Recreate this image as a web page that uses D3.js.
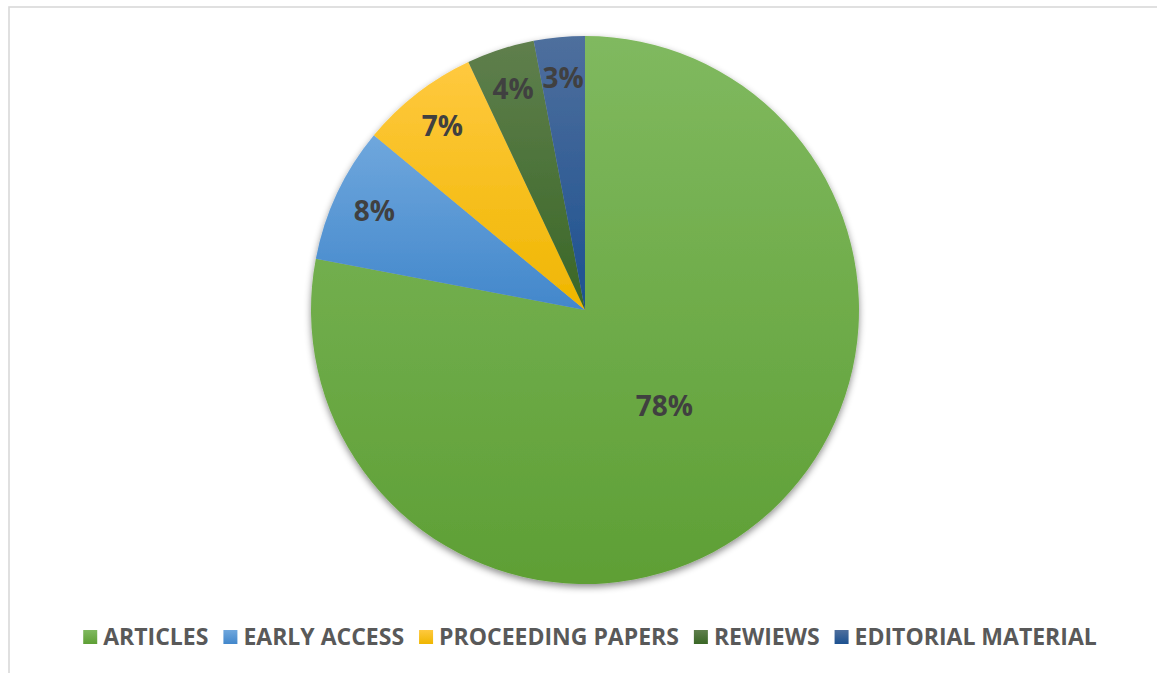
<!DOCTYPE html>
<html>
<head>
<meta charset="utf-8">
<script src="https://cdn.jsdelivr.net/npm/d3@7"></script>
<style>
  html, body { margin: 0; padding: 0; background: #ffffff; }
  svg { display: block; }
</style>
</head>
<body>
<svg id="chart" width="1157" height="673"></svg>
<script>
// Document types share (percent)
const categories = ["ARTICLES", "EARLY ACCESS", "PROCEEDING PAPERS", "REWIEWS", "EDITORIAL MATERIAL"];
const values = [78, 8, 7, 4, 3];
const labels = ["78%", "8%", "7%", "4%", "3%"];

// Fill gradients (top colour, bottom colour) per slice
const gradTop = ["#80b95f", "#6fa7dd", "#ffc93f", "#5f7f4d", "#4f6f9d"];
const gradBottom = ["#5e9f35", "#4287cb", "#efb600", "#3a6726", "#1c5190"];

const width = 1157, height = 673;
const cx = 585, cy = 310, R = 274;

const svg = d3.select("#chart");
const defs = svg.append("defs");

// Soft shadow under the pie
const shadow = defs.append("filter")
  .attr("id", "pieShadow")
  .attr("x", "-10%").attr("y", "-10%")
  .attr("width", "120%").attr("height", "125%");
shadow.append("feDropShadow")
  .attr("dx", 0).attr("dy", 3)
  .attr("stdDeviation", 3.5)
  .attr("flood-color", "#000")
  .attr("flood-opacity", 0.45);

categories.forEach((c, i) => {
  const g = defs.append("linearGradient")
    .attr("id", "grad" + i)
    .attr("x1", 0).attr("y1", 0).attr("x2", 0).attr("y2", 1);
  g.append("stop").attr("offset", "0%").attr("stop-color", gradTop[i]);
  g.append("stop").attr("offset", "100%").attr("stop-color", gradBottom[i]);
});

// Chart area frame (top and left edges visible)
svg.append("rect")
  .attr("x", 9).attr("y", 7)
  .attr("width", width + 20).attr("height", height + 20)
  .attr("fill", "none")
  .attr("stroke", "#d9d9d9")
  .attr("stroke-width", 1.6);

const pie = d3.pie().sort(null).value(d => d)
  .startAngle(0).endAngle(2 * Math.PI);
const arcs = pie(values);
const arc = d3.arc().innerRadius(0).outerRadius(R);

const gPie = svg.append("g")
  .attr("transform", `translate(${cx},${cy})`);

gPie.append("g")
  .attr("filter", "url(#pieShadow)")
  .selectAll("path")
  .data(arcs)
  .enter().append("path")
  .attr("d", arc)
  .attr("fill", (d, i) => `url(#grad${i})`);

// Data labels: large slice inside near centre, small slices near the rim
gPie.selectAll("text.lbl")
  .data(arcs)
  .enter().append("text")
  .attr("class", "lbl")
  .attr("transform", d => {
    const r = (d.endAngle - d.startAngle) > Math.PI ? R * 0.455 : R * 0.85;
    const a = (d.startAngle + d.endAngle) / 2;
    return `translate(${Math.sin(a) * r},${-Math.cos(a) * r})`;
  })
  .attr("text-anchor", "middle")
  .attr("dy", "0.36em")
  .attr("font-family", "'Open Sans', sans-serif")
  .attr("font-weight", 700)
  .attr("font-size", 28)
  .attr("fill", "#404040")
  .text((d, i) => labels[i]);

// Legend along the bottom
const legend = svg.append("g").attr("transform", "translate(0,637)");
const items = legend.selectAll("g.item")
  .data(categories)
  .enter().append("g")
  .attr("class", "item");

items.append("rect")
  .attr("y", -7).attr("width", 14).attr("height", 14)
  .attr("fill", (d, i) => `url(#grad${i})`);

items.append("text")
  .attr("x", 20)
  .attr("dy", "0.36em")
  .attr("font-family", "'Open Sans', sans-serif")
  .attr("font-weight", 700)
  .attr("font-size", 23)
  .attr("fill", "#595959")
  .text(d => d);

// Lay out legend entries side by side, centred
const gap = 15;
let widths = [];
items.each(function () {
  widths.push(20 + d3.select(this).select("text").node().getComputedTextLength());
});
const total = d3.sum(widths) + gap * (widths.length - 1);
let x = (9 + width) / 2 - total / 2 + 7;
items.attr("transform", (d, i) => {
  const t = `translate(${x},0)`;
  x += widths[i] + gap;
  return t;
});
</script>
</body>
</html>
